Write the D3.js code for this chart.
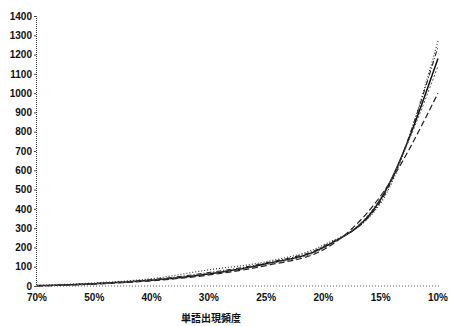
<!DOCTYPE html>
<html>
<head>
<meta charset="utf-8">
<script src="https://cdn.jsdelivr.net/npm/d3@7"></script>
<style>
  body { margin: 0; background: #fff; }
  text { font-family: "Liberation Sans", Arial, sans-serif; font-weight: bold; fill: #111; }
</style>
</head>
<body>
<svg width="450" height="326"></svg>
<script>
const svg = d3.select("svg"),
    width = +svg.attr("width"),
    height = +svg.attr("height");

// x categories (word occurrence frequency)
const categories = ["70%", "50%", "40%", "30%", "25%", "20%", "15%", "10%"];
const yTicks = [0, 100, 200, 300, 400, 500, 600, 700, 800, 900, 1000, 1100, 1200, 1300, 1400];

// series values
const seriesA = [2, 12, 30, 62, 115, 200, 450, 1180];
const seriesB = [0, 10, 27, 57, 106, 188, 468, 1000];
const seriesC = [3, 16, 38, 84, 126, 212, 430, 1270];
const seriesD = [1, 13, 33, 70, 120, 205, 440, 1240];
const seriesE = [0, 11, 31, 66, 111, 195, 458, 1140];

const series = [
    { values: seriesA, dash: null, w: 1.5, color: "#111" },
    { values: seriesB, dash: "6,3", w: 1.2, color: "#222" },
    { values: seriesC, dash: "1,2", w: 1.2, color: "#333" },
    { values: seriesD, dash: "5,2,1,2", w: 1.1, color: "#222" },
    { values: seriesE, dash: "2,2", w: 1, color: "#555" }
];

const x = d3.scalePoint()
    .domain(categories)
    .range([37, 438]);

const y = d3.scaleLinear()
    .domain([0, 1400])
    .range([286, 16]);

// y axis
const yAxis = svg.append("g")
    .attr("transform", "translate(36,0)")
    .call(d3.axisLeft(y).tickValues(yTicks).tickFormat(d3.format("d")).tickSize(2).tickPadding(2));
yAxis.select(".domain").attr("stroke", "#333").attr("stroke-dasharray", "1,1");
yAxis.selectAll(".tick line").attr("stroke", "#444");
yAxis.selectAll("text").style("font-size", "10px");

// x axis baseline (dotted)
svg.append("line")
    .attr("x1", 36).attr("x2", 440)
    .attr("y1", y(0)).attr("y2", y(0))
    .attr("stroke", "#555")
    .attr("stroke-width", 1)
    .attr("stroke-dasharray", "1,2");

svg.append("g").selectAll("text")
    .data(categories)
    .enter()
    .append("text")
    .attr("x", d => x(d))
    .attr("y", 301)
    .attr("text-anchor", "middle")
    .style("font-size", "10px")
    .text(d => d);

// axis title
svg.append("text")
    .attr("x", 211)
    .attr("y", 322)
    .attr("text-anchor", "middle")
    .style("font-family", "'Noto Sans CJK JP', sans-serif")
    .style("font-size", "10px")
    .text("単語出現頻度");

const line = d3.line()
    .x((d, i) => x(categories[i]))
    .y(d => y(d))
    .curve(d3.curveMonotoneX);

svg.append("g").selectAll("path")
    .data(series)
    .enter()
    .append("path")
    .attr("d", d => line(d.values))
    .attr("fill", "none")
    .attr("stroke", d => d.color)
    .attr("stroke-width", d => d.w)
    .attr("stroke-dasharray", d => d.dash);
</script>
</body>
</html>
